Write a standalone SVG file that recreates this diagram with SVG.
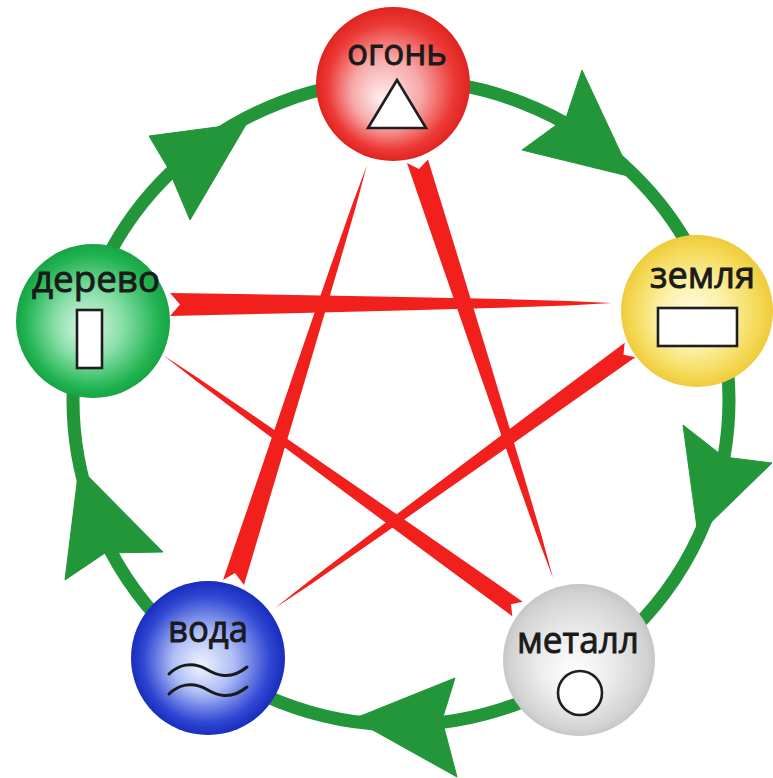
<svg xmlns="http://www.w3.org/2000/svg" width="773" height="778" viewBox="0 0 773 778">
<defs>
<radialGradient id="gFire" cx="0.5" cy="0.5" r="0.5" fx="0.42" fy="0.6">
<stop offset="0" stop-color="#fdf0f0"/><stop offset="0.45" stop-color="#f7a8a8"/><stop offset="0.82" stop-color="#ec3a36"/><stop offset="1" stop-color="#e02420"/>
</radialGradient>
<radialGradient id="gEarth" cx="0.5" cy="0.5" r="0.5" fx="0.45" fy="0.55">
<stop offset="0" stop-color="#fffdf0"/><stop offset="0.45" stop-color="#fcf0a4"/><stop offset="0.85" stop-color="#f4d852"/><stop offset="1" stop-color="#eecb3c"/>
</radialGradient>
<radialGradient id="gMetal" cx="0.5" cy="0.5" r="0.5" fx="0.45" fy="0.6">
<stop offset="0" stop-color="#ffffff"/><stop offset="0.45" stop-color="#ededed"/><stop offset="0.9" stop-color="#d2d2d2"/><stop offset="1" stop-color="#c6c6c6"/>
</radialGradient>
<radialGradient id="gWater" cx="0.5" cy="0.5" r="0.5" fx="0.45" fy="0.55">
<stop offset="0" stop-color="#f0f4ff"/><stop offset="0.4" stop-color="#aebdf5"/><stop offset="0.82" stop-color="#3048d4"/><stop offset="1" stop-color="#1a2cbc"/>
</radialGradient>
<radialGradient id="gWood" cx="0.5" cy="0.5" r="0.5" fx="0.45" fy="0.55">
<stop offset="0" stop-color="#e0f7e8"/><stop offset="0.45" stop-color="#86dea6"/><stop offset="0.86" stop-color="#22b452"/><stop offset="1" stop-color="#18a444"/>
</radialGradient>
</defs>
<style>
.ring{fill:none;stroke:#229638;stroke-width:13}
.arr{fill:#229638;stroke:#229638;stroke-width:1;stroke-linejoin:round}
.ctl{fill:#f2201c}
.lbl{font-family:"Open Sans","DejaVu Sans",sans-serif;font-size:37px;fill:#1a1a1a;stroke:#1a1a1a;stroke-width:0.9}
.ico{fill:#ffffff;stroke:#1e1e1e;stroke-width:2.6}
.wave{fill:none;stroke:#1a1a1a;stroke-width:3;stroke-linecap:round}
</style>
<rect width="773" height="778" fill="#ffffff"/>
<g id="connectors">
<path class="ring" d="M73,400 A328,320 0 0 1 729,400 A328,325 0 0 1 73,400 Z"/>
<polygon class="arr" points="149,136 247,123 190,220 168,168"/>
<polygon class="arr" points="582,70 632,177 522,150 566,118"/>
<polygon class="arr" points="683,425 698,535 772,463 724,457"/>
<polygon class="arr" points="455,678 353,719 457,777 442,720"/>
<polygon class="arr" points="65,580 79,467 163,552 105,553"/>
<polygon class="ctl" points="170,293 280.5,294.7 391,296.7 501.5,299 567.8,300.9 612,303 567.8,305.4 501.5,307.7 391,310.8 280.5,313.5 170,316 180,304.5"/>
<polygon class="ctl" points="428,159.5 459.7,262.7 491.5,367.6 522.9,472.5 541.5,535.6 553,578 537.4,537 515.3,475.1 479,371.6 443.1,268.1 407,163 419,169"/>
<polygon class="ctl" points="244,585 274.9,480.7 306.3,375.7 337.3,270.6 355.6,207.4 367,165 351.7,206.1 329.9,268.2 294.2,371.8 258.9,475.5 223,580 235,573"/>
<polygon class="ctl" points="624.7,342.7 536.9,408.6 449.2,474.5 361.7,540.7 309.4,580.7 275,608 311.6,583.7 365.8,546.3 455.8,483.5 545.6,420.5 635.3,357.3 623.5,354.7"/>
<polygon class="ctl" points="522.7,601.7 433.2,539.5 343.5,477.5 253.6,415.7 199.5,378.9 163,355 197.5,381.9 249.6,421.3 337,486.5 424.6,551.5 512.3,616.3 511,604.3"/>
</g>
<g id="fire">
<circle cx="393" cy="84" r="77" fill="url(#gFire)"/>
<text class="lbl" x="347" y="65" textLength="100" lengthAdjust="spacingAndGlyphs">огонь</text>
<polygon class="ico" points="397,80 368,128 426,128"/>
</g>
<g id="earth">
<circle cx="697" cy="311" r="76" fill="url(#gEarth)"/>
<text class="lbl" x="650" y="288" textLength="105" lengthAdjust="spacingAndGlyphs">земля</text>
<rect class="ico" x="658" y="308" width="79" height="38"/>
</g>
<g id="metal">
<circle cx="579" cy="660" r="76" fill="url(#gMetal)"/>
<text class="lbl" x="517" y="653" textLength="122" lengthAdjust="spacingAndGlyphs">металл</text>
<circle class="ico" cx="580" cy="693" r="22"/>
</g>
<g id="water">
<circle cx="208" cy="658" r="77" fill="url(#gWater)"/>
<text class="lbl" x="168" y="642" textLength="80" lengthAdjust="spacingAndGlyphs">вода</text>
<path class="wave" d="M169,674 C178,665 192,661 206,669 C216,675 230,681 247,667"/>
<path class="wave" d="M169,694 C178,685 192,681 206,689 C216,695 230,701 247,687"/>
</g>
<g id="wood">
<circle cx="93" cy="321" r="77" fill="url(#gWood)"/>
<text class="lbl" x="32" y="292" textLength="128" lengthAdjust="spacingAndGlyphs">дерево</text>
<rect class="ico" x="77" y="310" width="25" height="58"/>
</g>
</svg>
